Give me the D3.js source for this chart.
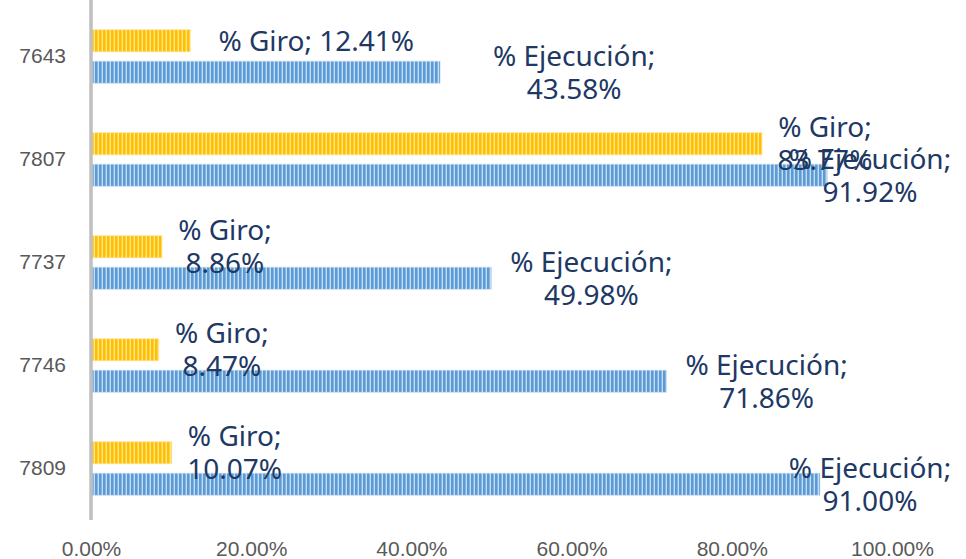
<!DOCTYPE html>
<html>
<head>
<meta charset="utf-8">
<script src="https://cdn.jsdelivr.net/npm/d3@7"></script>
<style>
  html, body { margin: 0; padding: 0; background: #fff; }
</style>
</head>
<body>
<script>
// données du graphique
const categories = ['7643', '7807', '7737', '7746', '7809'];
const giro = [12.41, 83.77, 8.86, 8.47, 10.07];
const ejecucion = [43.58, 91.92, 49.98, 71.86, 91.00];
const xTicks = [0, 20, 40, 60, 80, 100];

const width = 966;
const height = 559;

const series = [
  { id: 'giro', name: '% Giro', values: giro, base: '#ffc000', light: '#ffe38f', mid: '#ffcf40' },
  { id: 'ejec', name: '% Ejecución', values: ejecucion, base: '#5b9bd5', light: '#c4dcf2', mid: '#86b5e2' }
];

const rows = [];
categories.forEach((c, i) => {
  series.forEach(s => rows.push({ cat: c, series: s, value: s.values[i] }));
});

const svg = d3.select('body').append('svg')
  .attr('width', width)
  .attr('height', height);

// motifs à rayures verticales
const defs = svg.append('defs');
series.forEach(s => {
  const p = defs.append('pattern')
    .attr('id', 'pat-' + s.id)
    .attr('patternUnits', 'userSpaceOnUse')
    .attr('width', 4)
    .attr('height', 4);
  p.append('rect').attr('width', 4).attr('height', 4).attr('fill', s.base);
  p.append('rect').attr('x', 1).attr('width', 1).attr('height', 4).attr('fill', s.mid);
  p.append('rect').attr('x', 2).attr('width', 1).attr('height', 4).attr('fill', s.light);
});

// échelles
const x = d3.scaleLinear()
  .domain([0, 100])
  .range([91, 892]);

const y = d3.scaleBand()
  .domain(categories)
  .range([5, 520]);

const ySub = d3.scaleBand()
  .domain(series.map(s => s.id))
  .range([0, y.bandwidth()])
  .paddingInner(0.3)
  .paddingOuter(0.785);

// barres
svg.append('g')
  .selectAll('rect')
  .data(rows)
  .join('rect')
    .attr('x', x(0) + 1)
    .attr('y', d => y(d.cat) + ySub(d.series.id))
    .attr('width', d => x(d.value) - x(0) - 1)
    .attr('height', ySub.bandwidth())
    .attr('fill', d => `url(#pat-${d.series.id})`)
    .attr('stroke', d => d.series.light)
    .attr('stroke-opacity', 0.6)
    .attr('stroke-width', 1);

// axe vertical
const yAxis = svg.append('g')
  .attr('transform', `translate(${x(0)}, 0)`)
  .call(d3.axisLeft(y).tickSize(0).tickPadding(25))
  .call(g => g.select('.domain').remove());
yAxis.selectAll('text')
  .attr('font-family', '"Liberation Sans", Arial, sans-serif')
  .attr('font-size', 21)
  .attr('fill', '#595959');

svg.append('line')
  .attr('x1', x(0)).attr('x2', x(0))
  .attr('y1', 0).attr('y2', 520)
  .attr('stroke', '#bfbfbf')
  .attr('stroke-width', 3.5);

// axe horizontal
const xAxis = svg.append('g')
  .attr('transform', 'translate(0, 536)')
  .call(d3.axisBottom(x).tickValues(xTicks).tickSize(0).tickPadding(5)
    .tickFormat(d => d.toFixed(2) + '%'))
  .call(g => g.select('.domain').remove());
xAxis.selectAll('text')
  .attr('font-family', '"Liberation Sans Narrow", "Arial Narrow", sans-serif')
  .attr('font-size', 21)
  .attr('fill', '#595959');

// étiquettes de données
const wideRow = '7643';
const labels = svg.append('g')
  .attr('font-family', '"Noto Sans", sans-serif')
  .attr('font-size', 28)
  .attr('fill', '#203864')
  .attr('text-anchor', 'middle');

rows.forEach(d => {
  const cy = y(d.cat) + ySub(d.series.id) + ySub.bandwidth() / 2;
  const end = x(d.value);
  const valueText = d.value.toFixed(2) + '%';
  if (d.cat === wideRow && d.series.id === 'giro') {
    labels.append('text')
      .attr('x', end + 28)
      .attr('y', cy)
      .attr('dy', '0.35em')
      .attr('text-anchor', 'start')
      .text(`${d.series.name}; ${valueText}`);
    return;
  }
  let cx;
  if (d.series.id === 'giro') {
    cx = end + 63;
  } else {
    cx = end + (d.cat === wideRow ? 134 : 100);
  }
  cx = Math.min(cx, width - 96);
  const t = labels.append('text')
    .attr('x', cx)
    .attr('y', cy);
  t.append('tspan')
    .attr('x', cx)
    .attr('dy', '-0.24em')
    .text(d.series.name + ';');
  t.append('tspan')
    .attr('x', cx)
    .attr('dy', '1.18em')
    .text(valueText);
});
</script>
</body>
</html>
